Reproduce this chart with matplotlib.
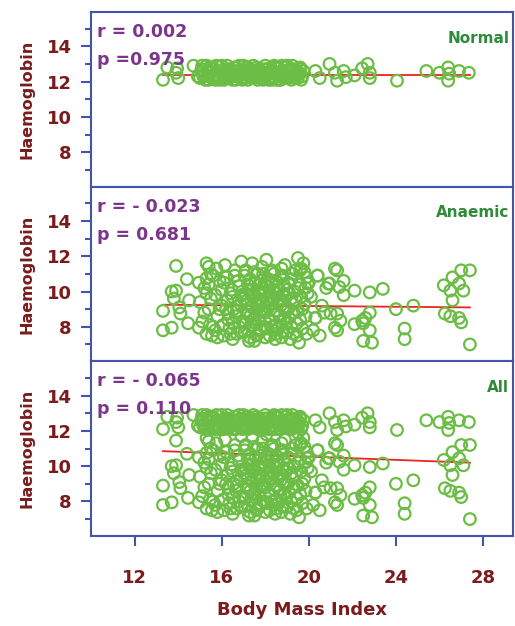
import numpy as np
import matplotlib.pyplot as plt
from matplotlib.ticker import MultipleLocator

# ---- data ----
normal_bmi = [15.0, 15.1, 15.2, 15.3, 15.4, 15.5, 15.6, 15.7, 15.8, 15.9,
              16.0, 16.1, 16.2, 16.3, 16.4, 16.5, 16.6, 16.7, 16.8, 16.9,
              17.0, 17.1, 17.2, 17.3, 17.4, 17.5, 17.6, 17.7, 17.8, 17.9,
              18.0, 18.1, 18.2, 18.3, 18.4, 18.5, 18.6, 18.7, 18.8, 18.9,
              19.0, 19.1, 19.2, 19.3, 19.4, 19.5, 19.6, 19.7,
              15.05, 15.25, 15.45, 15.65, 15.85, 16.05, 16.25, 16.45, 16.65, 16.85,
              17.05, 17.25, 17.45, 17.65, 17.85, 18.05, 18.25, 18.45, 18.65, 18.85,
              19.05, 19.25, 19.45, 19.65,
              16.2, 16.5, 16.8, 17.1, 17.4, 17.7, 18.0, 18.3, 18.6, 18.9,
              19.2, 19.5, 16.1, 17.6, 18.4, 14.7, 14.9,
              15.15, 15.35, 15.55, 15.75, 15.95, 16.15, 16.35, 16.55, 16.75, 16.95,
              17.15, 17.35, 17.55, 17.75, 17.95, 18.15, 18.35, 18.55, 18.75, 18.95,
              19.15, 19.35, 19.55, 19.75,
              15.1, 15.4, 15.7, 16.0, 16.3, 16.6, 16.9, 17.2, 17.5, 17.8,
              18.1, 18.4, 18.7, 19.0, 19.3, 19.6,
              13.3, 13.5, 13.95, 14.0, 13.9,
              20.3, 20.5, 20.95, 21.3, 21.2, 21.6, 21.7, 22.1, 22.45, 22.7,
              22.8, 22.8, 24.05, 25.4, 26.0, 26.4, 26.45, 26.4, 26.9, 27.35]
normal_hb = [12.2, 12.7, 12.4, 12.9, 12.1, 12.5, 12.8, 12.3, 12.6, 12.1,
             12.9, 12.4, 12.2, 12.7, 12.5, 12.1, 12.8, 12.3, 12.6, 12.2,
             12.9, 12.4, 12.1, 12.7, 12.5, 12.2, 12.8, 12.3, 12.6, 12.1,
             12.9, 12.4, 12.2, 12.7, 12.5, 12.1, 12.8, 12.3, 12.6, 12.2,
             12.9, 12.4, 12.1, 12.7, 12.5, 12.2, 12.8, 12.3,
             12.6, 12.1, 12.8, 12.4, 12.2, 12.5, 12.9, 12.3, 12.1, 12.7,
             12.2, 12.6, 12.9, 12.1, 12.4, 12.7, 12.3, 12.8, 12.1, 12.5,
             12.2, 12.9, 12.6, 12.1,
             12.6, 12.3, 12.9, 12.6, 12.2, 12.7, 12.3, 12.1, 12.5, 12.8,
             12.6, 12.4, 12.1, 12.5, 12.2, 12.9, 12.3,
             12.3, 12.6, 12.2, 12.9, 12.5, 12.7, 12.2, 12.6, 12.4, 12.1,
             12.8, 12.3, 12.6, 12.5, 12.7, 12.1, 12.6, 12.4, 12.9, 12.3,
             12.7, 12.2, 12.5, 12.6,
             12.9, 12.3, 12.1, 12.6, 12.2, 12.4, 12.5, 12.8, 12.4, 12.2,
             12.7, 12.9, 12.1, 12.6, 12.3, 12.7,
             12.1, 12.8, 12.75, 12.2, 12.5,
             12.6, 12.2, 13.0, 12.05, 12.5, 12.6, 12.25, 12.35, 12.75, 13.0,
             12.5, 12.2, 12.05, 12.6, 12.5, 12.8, 12.45, 12.05, 12.6, 12.5]

anaemic_bmi = [13.9, 13.3, 13.3, 13.7, 13.7, 13.9, 13.8, 14.05, 14.1, 14.4,
               14.5, 14.45, 14.95, 14.95, 15.3, 15.4, 15.3, 15.55,
               15.0, 15.1, 15.2, 15.3, 15.4, 15.5, 15.6, 15.7, 15.8, 15.9,
               15.2, 15.5, 15.8, 15.4, 15.7,
               15.6, 15.9, 15.3, 15.75, 15.45,
               16.0, 16.1, 16.2, 16.3, 16.4, 16.5, 16.6, 16.7, 16.8, 16.9,
               16.05, 16.25, 16.45, 16.65, 16.85, 16.15, 16.35, 16.55, 16.75, 16.95,
               16.9, 16.5,
               16.1, 16.3, 16.5, 16.7, 16.9, 16.2, 16.4, 16.6, 16.8, 16.0,
               17.0, 17.1, 17.2, 17.3, 17.4, 17.5, 17.6, 17.7, 17.8, 17.9,
               17.05, 17.15, 17.25, 17.35, 17.45, 17.55, 17.65, 17.75, 17.85, 17.95,
               17.1, 17.3, 17.5, 17.7, 17.9, 17.2, 17.4, 17.6, 17.8, 17.5,
               17.0, 17.1, 17.2, 17.3, 17.4, 17.5, 17.6, 17.7, 17.8, 17.9,
               17.05, 17.15, 17.25, 17.35, 17.45, 17.55, 17.65, 17.75, 17.85, 17.95,
               18.0, 18.1, 18.2, 18.3, 18.4, 18.5, 18.6, 18.7, 18.8, 18.9,
               18.05, 18.15, 18.25, 18.35, 18.45, 18.55, 18.65, 18.75, 18.85, 18.95,
               18.1, 18.3, 18.5, 18.7, 18.9, 18.2, 18.4, 18.6, 18.8, 18.0,
               18.0, 18.1, 18.2, 18.3, 18.4, 18.5, 18.6, 18.7, 18.8, 18.9,
               18.05, 18.15, 18.25, 18.35, 18.45, 18.55, 18.65, 18.75, 18.85, 18.95,
               19.0, 19.1, 19.2, 19.3, 19.4, 19.5, 19.6, 19.7, 19.8, 19.9,
               19.05, 19.25, 19.45, 19.65, 19.85, 19.15, 19.35, 19.55, 19.75, 19.95,
               19.5, 19.2,
               19.0, 19.1, 19.2, 19.3, 19.4, 19.5, 19.6, 19.7, 19.8, 19.9,
               19.05, 19.25, 19.45, 19.65, 19.85,
               20.1, 20.3, 20.4, 20.6, 20.2, 20.8, 20.5, 20.0, 20.7, 20.9,
               19.6, 19.95, 20.4, 20.95, 21.2, 21.3, 21.6, 21.4, 21.6, 22.1,
               22.8, 23.4, 21.0, 21.3, 21.45, 21.2, 21.3, 20.3, 22.1, 22.45,
               22.5, 22.6, 22.8, 22.8, 22.5, 22.9, 24.0, 24.8, 24.4, 24.4,
               26.2, 26.25, 26.5, 26.5, 26.6, 26.6, 26.9, 27.0, 27.4, 26.9,
               27.0, 27.1, 27.4]
anaemic_hb = [11.45, 8.9, 7.8, 7.95, 10.0, 10.05, 9.6, 9.1, 8.75, 10.7,
              9.5, 8.2, 10.5, 7.95, 11.6, 11.4, 10.75, 7.5,
              9.4, 8.3, 10.2, 7.6, 9.0, 11.0, 8.0, 9.8, 7.4, 10.6,
              8.8, 9.6, 8.6, 10.4, 7.8,
              10.9, 9.0, 9.9, 11.3, 8.1,
              9.2, 7.5, 10.8, 8.4, 9.9, 7.3, 11.2, 8.9, 10.3, 7.7,
              8.1, 9.5, 10.1, 8.6, 9.3, 11.5, 7.9, 9.0, 10.6, 8.3,
              11.7, 9.7,
              10.5, 8.8, 8.2, 7.6, 9.8, 9.0, 7.6, 10.9, 8.0, 10.1,
              9.6, 8.2, 10.4, 7.4, 9.1, 11.1, 8.7, 10.0, 7.8, 9.4,
              10.9, 8.9, 7.2, 9.8, 8.4, 10.5, 7.6, 9.2, 11.4, 8.0,
              9.9, 10.7, 8.5, 9.5, 10.2, 8.7, 11.6, 9.3, 8.9, 7.2,
              8.3, 11.2, 9.3, 8.6, 10.1, 9.8, 7.5, 8.3, 10.6, 11.0,
              7.7, 9.5, 10.1, 8.1, 9.7, 8.2, 11.0, 7.9, 9.0, 10.4,
              8.8, 10.3, 7.5, 9.7, 11.0, 8.1, 9.4, 10.8, 7.7, 9.0,
              11.8, 9.1, 8.4, 10.1, 7.3, 9.9, 8.6, 11.3, 10.4, 8.2,
              9.6, 8.0, 10.6, 9.2, 11.5, 10.0, 8.7, 7.9, 9.8, 7.4,
              10.0, 7.9, 9.3, 11.2, 9.6, 7.6, 10.1, 8.3, 10.9, 8.5,
              9.4, 10.7, 11.1, 7.8, 8.9, 10.3, 9.6, 7.4, 8.4, 9.7,
              10.1, 8.5, 9.6, 7.6, 11.2, 8.9, 10.4, 7.9, 9.3, 10.8,
              9.0, 11.0, 8.2, 9.7, 8.6, 7.3, 10.0, 7.1, 11.6, 9.9,
              11.9, 8.0,
              7.7, 9.9, 10.7, 8.8, 9.5, 10.2, 8.4, 9.0, 11.1, 7.6,
              10.5, 9.3, 7.5, 11.3, 10.2,
              9.7, 8.5, 10.9, 9.2, 7.8, 10.2, 7.5, 10.5, 8.8, 10.45,
              11.2, 10.45, 10.9, 10.45, 11.3, 11.2, 10.6, 10.25, 9.8, 10.05,
              9.95, 10.15, 8.75, 8.75, 8.35, 7.95, 7.8, 8.5, 8.15, 8.35,
              8.2, 8.5, 8.8, 7.8, 7.2, 7.1, 9.0, 9.2, 7.9, 7.3,
              10.35, 8.75, 8.6, 10.05, 10.8, 9.5, 10.45, 11.2, 11.2, 8.5,
              8.25, 10.05, 7.0]

all_bmi = normal_bmi + anaemic_bmi
all_hb = normal_hb + anaemic_hb

# fitted lines (end points)
fit_x = [13.3, 27.4]
normal_fit = [12.4, 12.4]
anaemic_fit = [9.25, 9.1]
all_fit = [10.85, 10.2]

panels = [
    ("Normal", normal_bmi, normal_hb, normal_fit, "r = 0.002", "p =0.975"),
    ("Anaemic", anaemic_bmi, anaemic_hb, anaemic_fit, "r = - 0.023", "p = 0.681"),
    ("All", all_bmi, all_hb, all_fit, "r = - 0.065", "p = 0.110"),
]

spine_col = "#4354ae"
tick_col = "#7a1c1c"
txt_col = "#7b368c"
lab_col = "#2e8b3a"
pt_col = "#6cbd45"

fig = plt.figure(figsize=(5.15, 6.26), dpi=100)
gs = fig.add_gridspec(3, 1, left=0.177, right=0.997, top=0.981, bottom=0.144, hspace=0)

for i, (name, x, y, fy, rtxt, ptxt) in enumerate(panels):
    ax = fig.add_subplot(gs[i])
    ax.plot(fit_x, fy, color="#e8261e", lw=1.3, zorder=1)
    ax.scatter(x, y, s=70, facecolors="none", edgecolors=pt_col, linewidths=1.6, zorder=2)
    ax.set_xlim(10, 29.4)
    ax.set_ylim(6.05, 15.95)
    ax.yaxis.set_minor_locator(MultipleLocator(1))
    ax.set_yticks([8, 10, 12, 14])
    for s in ax.spines.values():
        s.set_color(spine_col)
        s.set_linewidth(1.5)
    ax.tick_params(axis="y", which="major", length=7, width=1.5, color=spine_col,
                   labelcolor=tick_col, labelsize=13, pad=7)
    ax.tick_params(axis="y", which="minor", length=4, width=1.5, color=spine_col)
    for lbl in ax.get_yticklabels():
        lbl.set_fontweight("bold")
    ax.set_ylabel("Haemoglobin", color=tick_col, fontsize=11.5, fontweight="bold", labelpad=9)
    ax.text(0.014, 0.885, rtxt, transform=ax.transAxes, color=txt_col, fontsize=12.5,
            fontweight="bold", va="center", ha="left")
    ax.text(0.014, 0.725, ptxt, transform=ax.transAxes, color=txt_col, fontsize=12.5,
            fontweight="bold", va="center", ha="left")
    ax.text(0.99, 0.85, name, transform=ax.transAxes, color=lab_col, fontsize=11,
            fontweight="bold", va="center", ha="right")
    if i < 2:
        ax.tick_params(axis="x", which="both", bottom=False, labelbottom=False)
    else:
        ax.set_xticks([12, 16, 20, 24, 28])
        ax.tick_params(axis="x", length=7, width=1.5, color=spine_col,
                       labelcolor=tick_col, labelsize=13, pad=17)
        for lbl in ax.get_xticklabels():
            lbl.set_fontweight("bold")
        ax.set_xlabel("Body Mass Index", color=tick_col, fontsize=13, fontweight="bold", labelpad=10)

fig.savefig("out.png", dpi=100)
